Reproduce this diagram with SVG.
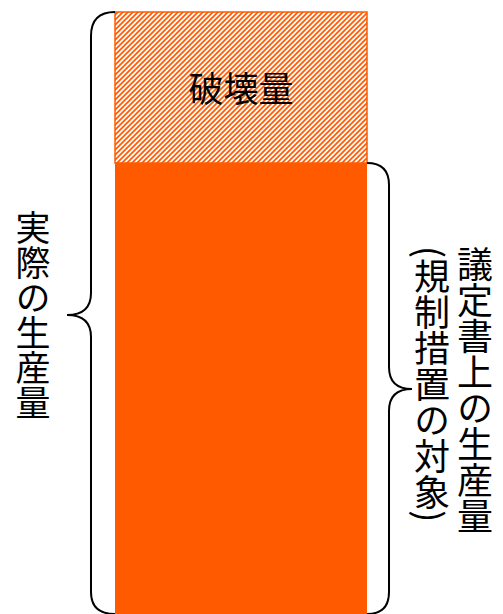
<svg xmlns="http://www.w3.org/2000/svg" width="503" height="614" viewBox="0 0 503 614">
<style>
.lbl{font-family:"Noto Sans CJK JP","Noto Sans",sans-serif;fill:#000;}
.v{writing-mode:vertical-rl;text-orientation:mixed;}
.brace{fill:none;stroke:#000;stroke-width:2;}
</style>
<defs>
<pattern id="hatch" patternUnits="userSpaceOnUse" width="5" height="5">
<rect width="5" height="5" fill="#fff"/>
<path d="M-1,1 L1,-1 M0,5 L5,0 M4,6 L6,4" stroke="#ff5a00" stroke-width="1.7"/>
</pattern>
</defs>
<g id="destroyed">
<rect x="115" y="12" width="252" height="151" fill="url(#hatch)" stroke="#ff5a00" stroke-width="1.5"/>
<text class="lbl" x="241" y="102" font-size="35" text-anchor="middle">破壊量</text>
</g>
<g id="protocol">
<rect x="115" y="163" width="252" height="451" fill="#ff5a00"/>
</g>
<g id="connectors">
<path class="brace" d="M115,12 Q91,12 91,36 L91,293 Q91,315 67,315 Q91,315 91,337 L91,592 Q91,614 115,614"/>
<path class="brace" d="M367,163 Q389,163 389,185 L389,367 Q389,389 412,389 Q389,389 389,411 L389,592 Q389,614 367,614"/>
</g>
<g id="actual-label">
<text class="lbl v" x="33" y="210" font-size="35">実際の生産量</text>
</g>
<g id="protocol-label">
<text class="lbl v" x="475" y="246" font-size="36">議定書上の生産量</text>
<text class="lbl v" x="432" y="246" font-size="36">(規制措置の対象)</text>
</g>
</svg>
